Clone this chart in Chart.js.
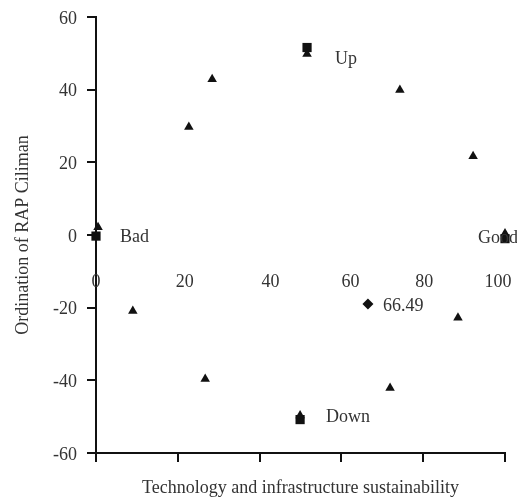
<!DOCTYPE html>
<html>
<head>
<meta charset="utf-8">
<script src="https://cdn.jsdelivr.net/npm/chart.js@4"></script>
<style>
  html, body { margin: 0; padding: 0; background: #fff; }
  #wrap { width: 517px; height: 500px; }
</style>
</head>
<body>
<div id="wrap"><canvas id="chart" width="517" height="500"></canvas></div>
<script>
// anchor points (triangles)
const anchorX = [0.5, 28.4, 22.7, 74.3, 92.2, 9.0, 26.7, 88.5, 71.9, 51.6, 49.9, 100];
const anchorY = [2.1, 42.9, 29.7, 39.9, 21.7, -20.9, -39.6, -22.8, -42.1, 49.8, -49.7, 0.4];

// reference points (squares)
const refNames = ['Bad', 'Up', 'Good', 'Down'];
const refX = [0, 51.6, 100, 49.9];
const refY = [-0.3, 51.6, -1.0, -50.8];

// status point (diamond)
const statusX = [66.49];
const statusY = [-19.0];

const xTicks = [0, 20, 40, 60, 80, 100];
const yTicks = [-60, -40, -20, 0, 20, 40, 60];

const FONT = 'Liberation Serif, Times New Roman, serif';
const TEXT = '#333';

const toPoints = (xs, ys) => xs.map((x, i) => ({ x: x, y: ys[i] }));

// the x labels in the original don't sit exactly on their ticks
const xLabelNudge = [0, 7, 11, 9, 1, -7];

// label offsets in px, [dx, dy] from the marker
const refLabelOffset = {
    Bad: [24, 1],
    Up: [28, 12],
    Good: [-27, 0],
    Down: [26, -2]
};

const labelPlugin = {
    id: 'labels',
    afterDraw(chart) {
        const ctx = chart.ctx;
        const xs = chart.scales.x;
        const ys = chart.scales.y;
        ctx.save();
        ctx.font = '18px ' + FONT;
        ctx.fillStyle = TEXT;
        ctx.textBaseline = 'middle';

        // x tick labels sit just under the zero line
        ctx.textAlign = 'center';
        const y0 = ys.getPixelForValue(0);
        xTicks.forEach((v, i) => {
            ctx.fillText(String(v), xs.getPixelForValue(v) + xLabelNudge[i], y0 + 47);
        });

        ctx.textAlign = 'left';
        refNames.forEach((name, i) => {
            const off = refLabelOffset[name];
            ctx.fillText(name, xs.getPixelForValue(refX[i]) + off[0], ys.getPixelForValue(refY[i]) + off[1]);
        });
        ctx.fillText(String(statusX[0]), xs.getPixelForValue(statusX[0]) + 15, ys.getPixelForValue(statusY[0]) + 2);
        ctx.restore();
    }
};

new Chart(document.getElementById('chart'), {
    type: 'scatter',
    data: {
        datasets: [
            {
                label: 'Anchors',
                data: toPoints(anchorX, anchorY),
                pointStyle: 'triangle',
                pointRadius: 5.5,
                backgroundColor: '#111',
                borderColor: '#111',
                borderWidth: 0
            },
            {
                label: 'References',
                data: toPoints(refX, refY),
                pointStyle: 'rect',
                pointRadius: 6.5,
                backgroundColor: '#111',
                borderColor: '#111',
                borderWidth: 0
            },
            {
                label: 'Status',
                data: toPoints(statusX, statusY),
                pointStyle: 'rectRot',
                pointRadius: 5.5,
                backgroundColor: '#111',
                borderColor: '#111',
                borderWidth: 0
            }
        ]
    },
    options: {
        responsive: false,
        animation: false,
        clip: false,
        layout: { padding: { top: 17, right: 12, left: 0, bottom: 0 } },
        plugins: {
            legend: { display: false },
            tooltip: { enabled: false }
        },
        scales: {
            x: {
                type: 'linear',
                position: 'bottom',
                min: 0,
                max: 100,
                afterBuildTicks: (scale) => { scale.ticks = xTicks.map(v => ({ value: v })); },
                afterFit: (scale) => { scale.height = 47; },
                ticks: { display: false },
                grid: { drawOnChartArea: false, drawTicks: true, tickLength: 9, color: '#111', lineWidth: 2 },
                border: { display: true, color: '#111', width: 2 },
                title: {
                    display: true,
                    text: 'Technology and infrastructure sustainability',
                    font: { family: FONT, size: 18 },
                    color: TEXT,
                    padding: { top: 0, bottom: 1 }
                }
            },
            y: {
                type: 'linear',
                min: -60,
                max: 60,
                afterBuildTicks: (scale) => { scale.ticks = yTicks.map(v => ({ value: v })); },
                afterFit: (scale) => {
                    scale.width = 96;
                    // keep the plot edges where the layout padding puts them
                    scale.paddingTop = 0;
                    scale.paddingBottom = 0;
                },
                ticks: {
                    font: { family: FONT, size: 18 },
                    color: TEXT,
                    padding: 10,
                    labelOffset: 2
                },
                grid: { drawOnChartArea: false, drawTicks: true, tickLength: 9, color: '#111', lineWidth: 2 },
                border: { display: true, color: '#111', width: 2 },
                title: {
                    display: true,
                    text: 'Ordination of RAP Ciliman',
                    font: { family: FONT, size: 18 },
                    color: TEXT,
                    padding: { top: 12, bottom: 0 }
                }
            }
        }
    },
    plugins: [labelPlugin]
});
</script>
</body>
</html>
